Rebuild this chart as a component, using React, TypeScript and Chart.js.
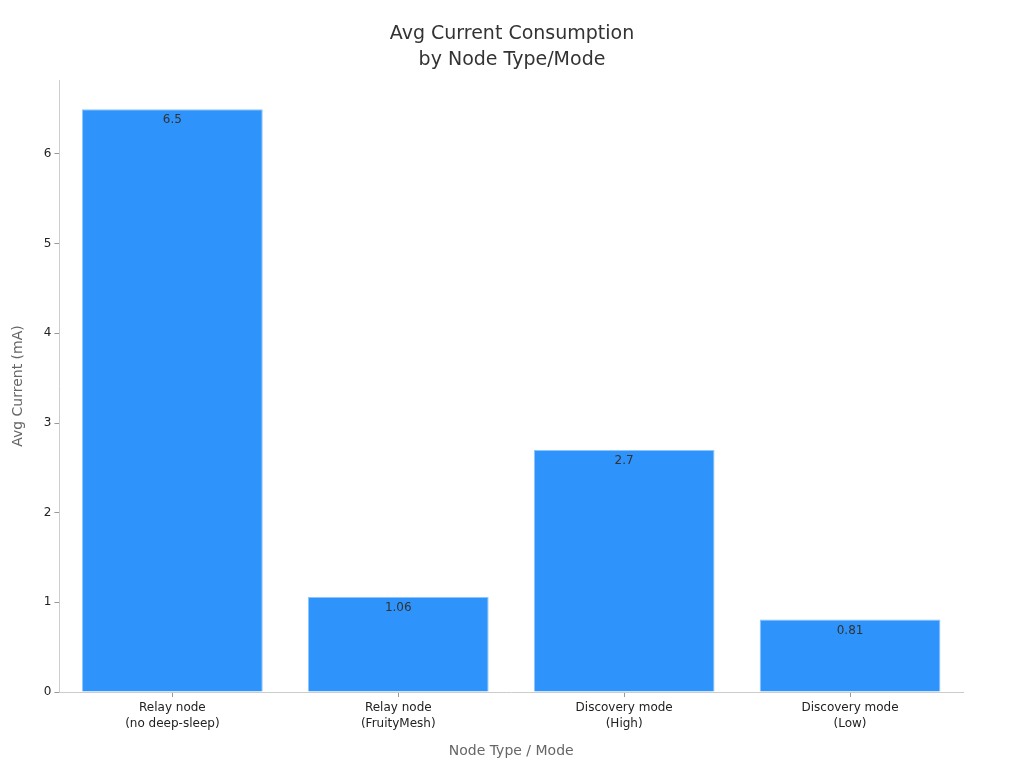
import { useEffect, useRef } from "react";
import { Chart, registerables, Plugin } from "chart.js";

Chart.register(...registerables);

const categories = [
  ["Relay node", "(no deep-sleep)"],
  ["Relay node", "(FruityMesh)"],
  ["Discovery mode", "(High)"],
  ["Discovery mode", "(Low)"],
];
const currentValues = [6.5, 1.06, 2.7, 0.81];
const yTicks = [0, 1, 2, 3, 4, 5, 6];
const titleLines = ["Avg Current Consumption", "by Node Type/Mode"];

const FONT = "'DejaVu Sans', sans-serif";

// value labels drawn just inside the top of every bar
const barLabels: Plugin<"bar"> = {
  id: "barLabels",
  afterDatasetsDraw(chart) {
    const { ctx } = chart;
    const meta = chart.getDatasetMeta(0);
    ctx.save();
    ctx.font = `12px ${FONT}`;
    ctx.fillStyle = "#333";
    ctx.textAlign = "center";
    ctx.textBaseline = "top";
    meta.data.forEach((bar, i) => {
      ctx.fillText(String(currentValues[i]), bar.x, bar.y + 5);
    });
    ctx.restore();
  },
};

// title centred over the whole canvas, not just the padded area
const pageTitle: Plugin<"bar"> = {
  id: "pageTitle",
  afterDraw(chart) {
    const { ctx } = chart;
    ctx.save();
    ctx.font = `19px ${FONT}`;
    ctx.fillStyle = "#333";
    ctx.textAlign = "center";
    ctx.textBaseline = "middle";
    titleLines.forEach((line, i) => ctx.fillText(line, chart.width / 2, 34 + i * 26));
    ctx.restore();
  },
};

export default function App() {
  const canvasRef = useRef<HTMLCanvasElement>(null);

  useEffect(() => {
    if (!canvasRef.current) return;
    const chart = new Chart(canvasRef.current, {
      type: "bar",
      data: {
        labels: categories,
        datasets: [{
          data: currentValues,
          backgroundColor: "#2e93fa",
          borderColor: "#8cc4fb",
          borderWidth: 1,
          barPercentage: 0.8,
          categoryPercentage: 1,
        }],
      },
      options: {
        animation: false,
        responsive: true,
        maintainAspectRatio: false,
        layout: { padding: { left: 6, right: 61, top: 80, bottom: 8 } },
        plugins: {
          legend: { display: false },
          tooltip: { enabled: false },
          title: { display: false },
        },
        scales: {
          x: {
            grid: { display: true, drawOnChartArea: false, drawTicks: true, tickLength: 5, offset: false, color: "#999" },
            border: { display: true, color: "#ccc" },
            ticks: { color: "#222", font: { family: FONT, size: 12, lineHeight: 1.34 }, padding: 3 },
            title: {
              display: true,
              text: "Node Type / Mode",
              color: "#666",
              font: { family: FONT, size: 14 },
              padding: { top: 8, bottom: 0 },
            },
          },
          y: {
            min: 0,
            max: 6.825,
            afterBuildTicks: (axis) => { axis.ticks = yTicks.map((v) => ({ value: v })); },
            grid: { display: true, drawOnChartArea: false, drawTicks: true, tickLength: 5, color: "#999" },
            border: { display: true, color: "#ccc" },
            ticks: { color: "#222", font: { family: FONT, size: 12 }, padding: 3 },
            title: {
              display: true,
              text: "Avg Current (mA)",
              color: "#666",
              font: { family: FONT, size: 14 },
              padding: { top: 4, bottom: 14 },
            },
          },
        },
      },
      plugins: [barLabels, pageTitle],
    });
    return () => chart.destroy();
  }, []);

  return (
    <div style={{ position: "fixed", left: 0, top: 0, width: 1024, height: 768, background: "#fff" }}>
      <canvas ref={canvasRef} />
    </div>
  );
}
